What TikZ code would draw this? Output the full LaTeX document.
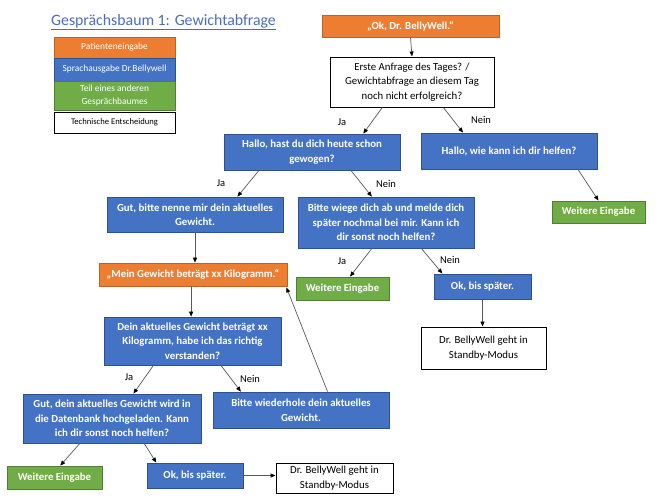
\documentclass[tikz,border=0pt]{standalone}
\usepackage{fontspec}
\setmainfont{Carlito}
\usetikzlibrary{arrows.meta,calc}
\definecolor{cOr}{HTML}{ED7D31}
\definecolor{cOrD}{HTML}{C2611F}
\definecolor{cBl}{HTML}{4472C4}
\definecolor{cBlD}{HTML}{2F528F}
\definecolor{cGr}{HTML}{70AD47}
\definecolor{cGrD}{HTML}{507E32}
\definecolor{cLine}{HTML}{595959}
\definecolor{cTitle}{HTML}{4A6EBD}
\begin{document}
\begin{tikzpicture}[x=1pt,y=-1pt,
  base/.style={draw, line width=0.8pt, inner sep=1pt, align=center, text=white,
    font=\fontsize{10.8}{14.5}\selectfont\bfseries},
  pat/.style={base, fill=cOr, draw=cOrD},
  spr/.style={base, fill=cBl, draw=cBlD},
  teil/.style={base, fill=cGr, draw=cGrD},
  tech/.style={base, fill=white, draw=black, text=black, line width=1pt,
    font=\fontsize{10.8}{14.5}\selectfont},
  legtxt/.style={font=\fontsize{9.4}{14}\selectfont},
  lbl/.style={font=\fontsize{10.5}{11}\selectfont, text=black, inner sep=0pt},
  con/.style={draw=cLine, line width=0.7pt, -{Triangle[length=5pt,width=4pt,color=black]}}
]
\useasboundingbox (0,0) rectangle (660,499);
\fill[white] (0,0) rectangle (660,499);

% title
\node[text=cTitle, font=\fontsize{15.8}{18}\selectfont, inner sep=0pt] (title) at (163.5,22) {\underline{Gesprächsbaum 1: Gewichtabfrage}};

% legend
\node[pat, legtxt, minimum width=121pt, minimum height=21pt] (leg1) at (114.5,47.5) {Patienteneingabe};
\node[spr, legtxt, minimum width=121pt, minimum height=23pt] (leg2) at (114.5,69.5) {Sprachausgabe Dr.Bellywell};
\node[teil, legtxt, font=\fontsize{9.4}{13}\selectfont, minimum width=121pt, minimum height=29pt] (leg3) at (114.5,95.5) {Teil eines anderen\\Gesprächbaumes};
\node[tech, font=\fontsize{8.6}{14}\selectfont, minimum width=121pt, minimum height=21pt] (leg4) at (114.5,122.5) {Technische Entscheidung};

% main nodes
\node[pat, minimum width=177pt, minimum height=22pt] (ok) at (410.5,26) {„Ok, Dr. BellyWell.“};
\node[tech, minimum width=164pt, minimum height=50pt] (dec1) at (412,82) {Erste Anfrage des Tages? /\\Gewichtabfrage an diesem Tag\\noch nicht erfolgreich?};
\node[spr, minimum width=176pt, minimum height=36pt] (hallo1) at (312,152) {Hallo, hast du dich heute schon\\gewogen?};
\node[spr, minimum width=176pt, minimum height=36pt] (hallo2) at (509,151) {Hallo, wie kann ich dir helfen?};
\node[teil, minimum width=93pt, minimum height=22pt] (weiter1) at (598.5,212) {Weitere Eingabe};
\node[spr, minimum width=176pt, minimum height=51pt] (bitte1) at (386,222.5) {Bitte wiege dich ab und melde dich\\später nochmal bei mir. Kann ich\\dir sonst noch helfen?};
\node[spr, minimum width=176pt, minimum height=35pt] (gut1) at (195,214.5) {Gut, bitte nenne mir dein aktuelles\\Gewicht.};
\node[teil, minimum width=93pt, minimum height=23pt] (weiter2) at (342.5,288.5) {Weitere Eingabe};
\node[spr, minimum width=97pt, minimum height=25pt] (ok1) at (482.5,286.5) {Ok, bis später.};
\node[tech, minimum width=125pt, minimum height=42pt] (standby1) at (483.5,348) {Dr. BellyWell geht in\\Standby-Modus};
\node[pat, minimum width=188pt, minimum height=23pt] (mein) at (193,274.5) {„Mein Gewicht beträgt xx Kilogramm.“};
\node[spr, minimum width=177pt, minimum height=48pt] (dein) at (192.5,341) {Dein aktuelles Gewicht beträgt xx\\Kilogramm, habe ich das richtig\\verstanden?};
\node[spr, minimum width=178pt, minimum height=49pt] (gut2) at (112,418.5) {Gut, dein aktuelles Gewicht wird in\\die Datenbank hochgeladen. Kann\\ich dir sonst noch helfen?};
\node[spr, minimum width=176pt, minimum height=36pt] (bitte2) at (301,410) {Bitte wiederhole dein aktuelles\\Gewicht.};
\node[teil, minimum width=95pt, minimum height=23pt] (weiter3) at (54.5,477.5) {Weitere Eingabe};
\node[spr, minimum width=96pt, minimum height=25pt] (ok2) at (195,475.5) {Ok, bis später.};
\node[tech, minimum width=117pt, minimum height=30pt] (standby2) at (334.5,478) {Dr. BellyWell geht in\\Standby-Modus};

% connectors
\draw[con] (ok.south) -- (dec1.north);
\draw[con] ($(dec1.south west)!0.32!(dec1.south east)$) -- ($(hallo1.north west)!0.79!(hallo1.north east)$);
\draw[con] ($(dec1.south west)!0.69!(dec1.south east)$) -- ($(hallo2.north west)!0.24!(hallo2.north east)$);
\draw[con] ($(hallo1.south west)!0.2!(hallo1.south east)$) -- ($(gut1.north west)!0.74!(gut1.north east)$);
\draw[con] ($(hallo1.south west)!0.72!(hallo1.south east)$) -- ($(bitte1.north west)!0.42!(bitte1.north east)$);
\draw[con] ($(hallo2.south west)!0.89!(hallo2.south east)$) -- ($(weiter1.north west)!0.5!(weiter1.north east)$);
\draw[con] ($(bitte1.south west)!0.42!(bitte1.south east)$) -- ($(weiter2.north west)!0.58!(weiter2.north east)$);
\draw[con] ($(bitte1.south west)!0.70!(bitte1.south east)$) -- ($(ok1.north west)!0.09!(ok1.north east)$);
\draw[con] (ok1.south) -- (ok1.south |- standby1.north);
\draw[con] (gut1.south) -- (gut1.south |- mein.north);
\draw[con] ($(mein.south west)!0.49!(mein.south east)$) coordinate (mb) -- (mb |- dein.north);
\draw[con] ($(dein.south west)!0.28!(dein.south east)$) -- ($(gut2.north west)!0.62!(gut2.north east)$);
\draw[con] ($(dein.south west)!0.66!(dein.south east)$) -- ($(bitte2.north west)!0.16!(bitte2.north east)$);
\draw[con] ($(bitte2.north west)!0.65!(bitte2.north east)$) -- ($(mein.south east)+(-1,1)$);
\draw[con] ($(gut2.south west)!0.32!(gut2.south east)$) -- ($(weiter3.north west)!0.56!(weiter3.north east)$);
\draw[con] ($(gut2.south west)!0.68!(gut2.south east)$) -- ($(ok2.north west)!0.10!(ok2.north east)$);
\draw[con] (ok2.east) -- (ok2.east -| standby2.west);

% labels
\node[lbl] (l1) at (342,122) {Ja};
\node[lbl] (l2) at (481,120) {Nein};
\node[lbl] (l3) at (221,183) {Ja};
\node[lbl] (l4) at (386,184) {Nein};
\node[lbl] (l5) at (342,261) {Ja};
\node[lbl] (l6) at (450,260) {Nein};
\node[lbl] (l7) at (129,377) {Ja};
\node[lbl] (l8) at (250,379) {Nein};
\end{tikzpicture}
\end{document}
